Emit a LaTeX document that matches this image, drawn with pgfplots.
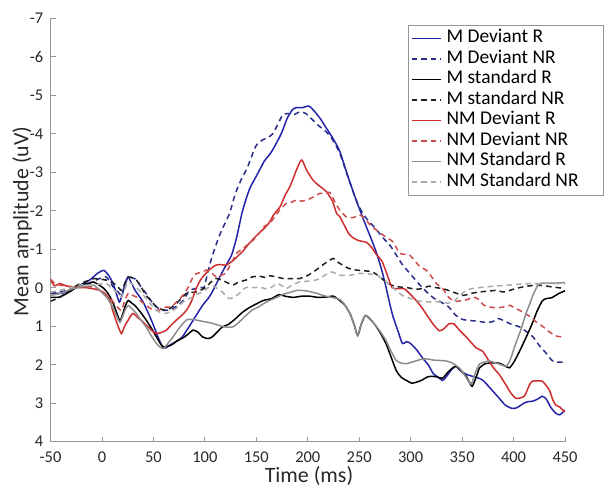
\documentclass[border=0pt]{standalone}
\usepackage{fontspec}
\setmainfont{Carlito}
\usepackage{pgfplots}
\pgfplotsset{compat=1.18}

\definecolor{mblue}{RGB}{35,35,170}
\definecolor{mbluedash}{RGB}{40,45,140}
\definecolor{mred}{RGB}{205,45,45}
\definecolor{mreddash}{RGB}{205,75,75}
\definecolor{kdash}{RGB}{30,30,30}
\definecolor{gsolid}{RGB}{140,140,140}
\definecolor{gdash}{RGB}{170,170,170}
\definecolor{axisgray}{RGB}{150,150,150}
\definecolor{tickcol}{RGB}{40,40,40}
\newcommand\lent[1]{\makebox[154bp][l]{#1}}

\begin{document}
\begin{tikzpicture}
\begin{axis}[
  scale only axis, width=514.5bp, height=423.4bp,
  xmin=-50, xmax=450, ymin=-7, ymax=4, y dir=reverse,
  axis x line*=bottom, axis y line*=left,
  axis line style={draw=axisgray, line width=0.8bp, -},
  xtick={-50,0,...,450}, ytick={-7,-6,...,4},
  tick align=inside, major tick length=5bp,
  tick style={axisgray, line width=0.8bp},
  ticklabel style={font=\fontsize{16.5}{18}\selectfont, text=tickcol},
  /pgf/number format/assume math mode=true,
  xticklabel style={anchor=north, inner sep=0pt, yshift=-10bp},
  yticklabel style={anchor=east, inner sep=0pt, xshift=-7bp},
  xlabel={Time (ms)}, ylabel={Mean amplitude (uV)},
  label style={font=\fontsize{22}{26}\selectfont, text=tickcol},
  xlabel style={at={(axis description cs:0.5024,-0.0975)}, anchor=base, inner sep=0pt},
  ylabel style={at={(axis description cs:-0.0428,0.52)}, anchor=base, inner sep=0pt},
  legend style={at={(axis description cs:1,1)}, anchor=north east, xshift=39bp, yshift=-6.7bp,
    draw=axisgray, line width=0.8bp, fill=white, inner sep=3bp,
    font=\fontsize{19.5}{20.5}\selectfont, row sep=0pt, column sep=5bp,
    nodes={inner sep=0pt, text height=14.5bp, text depth=6bp}},
  legend cell align=left,
  legend image code/.code={\draw[#1] (0bp,0bp) -- (29bp,0bp);},
  every axis plot/.append style={line width=1.5bp, smooth, tension=0.4},
]
% M Deviant R
\addplot[mblue] coordinates {
(-50,0.12) (-41,0.15) (-31,0.08) (-21,-0.07) (-12,-0.2) (-4,-0.38) (2,-0.45) (7,-0.3) (11,-0.1) (14,0.15) (17,0.37) (20,0.15) (23,-0.15) (25.5,-0.28) (29,-0.1) (33,0.1) (40,0.37) (48,0.84) (54,1.25) (59,1.54) (62,1.56) (66,1.49) (72,1.4) (78,1.28) (85,1.0) (92,0.7) (98,0.45) (104,0.25) (108,0.07) (113,-0.2) (118,-0.46) (122,-0.65) (126,-0.85) (131,-1.32) (136,-1.93) (140,-2.3) (144,-2.6) (149,-2.85) (154,-3.1) (158,-3.3) (164,-3.5) (170,-3.78) (175,-4.05) (180,-4.4) (185,-4.62) (189,-4.68) (195,-4.68) (201,-4.72) (206,-4.6) (212,-4.4) (218,-4.15) (224,-3.9) (231,-3.55) (239,-2.9) (247,-2.28) (257,-1.58) (262,-1.25) (267,-0.89) (272,-0.45) (276,-0.02) (280,0.45) (283,0.76) (288,1.15) (292,1.45) (296,1.4) (300,1.45) (306,1.62) (312,1.84) (317,2.0) (322,2.23) (327,2.33) (331,2.41) (335,2.3) (340,2.12) (344,2.04) (348,2.15) (354,2.25) (360,2.3) (364,2.33) (370,2.4) (377,2.6) (386,2.87) (392,3.05) (398,3.13) (403,3.12) (410,3.0) (414,2.96) (418,2.95) (423,2.9) (428,2.82) (432,2.9) (436,3.1) (441,3.26) (445,3.3) (450,3.18)};
\addlegendentry{\lent{M Deviant R}}
% M Deviant NR
\addplot[mbluedash, dash pattern=on 5.5bp off 4bp] coordinates {
(-50,0.15) (-41,0.11) (-31,0.05) (-21,-0.02) (-12,-0.12) (-4,-0.22) (4,-0.28) (9,-0.1) (12,0.02) (16,0.12) (19,0.2) (22,-0.05) (25.5,-0.28) (30,-0.25) (34,-0.2) (38,-0.02) (43,0.15) (48,0.35) (53,0.5) (59,0.59) (64,0.58) (69,0.54) (74,0.45) (79,0.33) (85,0.07) (90,0.03) (95,-0.02) (99,0.0) (102,-0.3) (105,-0.63) (110,-1.05) (115,-1.41) (120,-1.7) (124,-1.93) (128,-2.3) (131,-2.54) (136,-2.85) (141,-3.1) (146,-3.45) (150,-3.7) (156,-3.84) (161,-3.9) (166,-4.0) (171,-4.25) (176,-4.5) (182,-4.52) (187,-4.5) (192,-4.57) (198,-4.53) (204,-4.38) (211,-4.2) (218,-4.05) (224,-3.85) (231,-3.5) (239,-2.88) (247,-2.28) (252,-2.0) (257,-1.8) (262,-1.65) (267,-1.5) (273,-1.3) (280,-1.1) (286,-0.85) (292,-0.6) (300,-0.35) (308,-0.1) (316,0.12) (323,0.28) (330,0.38) (337,0.5) (344,0.72) (350,0.82) (357,0.85) (365,0.87) (373,0.9) (380,0.88) (385,0.8) (390,0.85) (398,0.95) (406,1.02) (413,1.15) (419,1.28) (425,1.5) (432,1.71) (437,1.88) (441,1.93) (450,1.93)};
\addlegendentry{\lent{M Deviant NR}}
% M standard R
\addplot[black] coordinates {
(-50,0.25) (-41,0.24) (-31,0.1) (-21,-0.07) (-12,-0.12) (-8,-0.15) (1,0.0) (6,0.15) (11,0.41) (15,0.7) (17.5,0.86) (20,0.7) (23,0.45) (25.5,0.33) (29,0.4) (32,0.46) (37,0.62) (43,0.84) (48,1.05) (53,1.28) (57,1.46) (60,1.54) (64,1.52) (68,1.48) (73,1.38) (79,1.3) (84,1.2) (88.5,1.1) (93,1.15) (98,1.28) (103,1.32) (107,1.28) (112,1.15) (117,1.02) (123,0.95) (130,0.8) (136,0.65) (143,0.52) (150,0.42) (157,0.33) (165,0.28) (172,0.18) (178,0.22) (186,0.25) (194,0.22) (202,0.22) (210,0.25) (218,0.24) (225,0.22) (231,0.33) (236,0.45) (241,0.67) (245,0.95) (248.5,1.24) (252,0.95) (256,0.72) (260,0.8) (265,0.95) (270,1.15) (276,1.45) (281,1.8) (286,2.15) (291,2.33) (296,2.41) (301,2.48) (306,2.45) (311,2.4) (316,2.32) (321,2.3) (326,2.32) (331,2.35) (336,2.2) (340,2.1) (344,2.04) (349,2.15) (354,2.3) (358,2.5) (360,2.56) (364,2.3) (367,2.08) (372,1.98) (376,1.96) (381,1.95) (386,1.96) (391,2.02) (396,2.08) (401,1.9) (406,1.64) (412,1.3) (418,0.94) (423,0.6) (428,0.34) (432,0.28) (437,0.26) (444,0.15) (450,0.08)};
\addlegendentry{\lent{M standard R}}
% M standard NR
\addplot[kdash, dash pattern=on 5.5bp off 4bp] coordinates {
(-50,0.35) (-41,0.25) (-31,0.05) (-21,-0.11) (-12,-0.2) (-8,-0.24) (4,-0.2) (9,-0.15) (14,-0.07) (19,0.07) (22,-0.1) (25.5,-0.28) (30,-0.25) (33.5,-0.2) (38,-0.02) (43,0.2) (48,0.35) (53,0.5) (58,0.56) (62.6,0.59) (67,0.52) (72.4,0.41) (77,0.28) (82,0.15) (87,0.12) (91.8,0.11) (97,0.05) (101.5,-0.02) (106,-0.15) (111,-0.24) (116,-0.2) (120.5,-0.15) (127,-0.07) (133,-0.15) (140,-0.2) (146,-0.28) (153,-0.3) (158,-0.27) (163,-0.31) (170,-0.28) (176,-0.24) (184,-0.24) (192,-0.24) (200,-0.32) (208,-0.46) (216,-0.62) (224.6,-0.76) (230,-0.65) (234,-0.59) (240,-0.5) (247,-0.46) (255,-0.44) (263,-0.41) (270,-0.28) (276,-0.15) (283,-0.05) (289,-0.02) (297,0.0) (305,0.04) (311,0.02) (318,-0.04) (325,0.0) (331,0.02) (340,0.1) (351,0.2) (358,0.15) (367,0.11) (375,0.09) (383,0.07) (390,0.11) (395,0.08) (402,0.02) (409,-0.02) (416,-0.05) (422,-0.07) (430,-0.05) (438,-0.02) (444,0.0) (450,0.02)};
\addlegendentry{\lent{M standard NR}}
% NM Deviant R
\addplot[mred] coordinates {
(-50,-0.2) (-46,-0.05) (-41,-0.11) (-35,-0.05) (-28,-0.02) (-20,0.0) (-15,0.0) (-8,0.03) (-2,0.07) (3,0.15) (7.7,0.33) (10,0.55) (12.5,0.76) (16,1.02) (19,1.19) (22,1.0) (25.5,0.84) (30,0.67) (35,0.78) (40,0.89) (46,1.05) (50,1.15) (53,1.19) (58,1.16) (62.6,1.1) (67,0.98) (72.4,0.84) (77,0.73) (82,0.59) (87,0.35) (91.9,0.0) (97,-0.25) (104.9,-0.48) (111,-0.59) (116,-0.6) (121,-0.59) (128,-0.72) (133,-0.85) (137,-0.95) (143,-1.15) (150,-1.35) (156,-1.5) (162,-1.67) (167,-1.9) (173,-2.1) (178,-2.4) (182.5,-2.62) (186,-2.85) (189,-3.06) (194,-3.32) (199,-3.05) (205,-2.8) (211,-2.65) (218,-2.5) (224,-2.25) (228,-1.93) (231,-1.85) (235,-1.65) (240,-1.4) (245,-1.28) (250,-1.22) (257,-1.18) (262,-1.05) (267,-0.85) (272,-0.7) (277,-0.35) (282,0.0) (288,0.02) (294,0.03) (300,0.18) (306,0.35) (311,0.52) (316,0.72) (322,0.95) (328,1.12) (333,1.05) (337,0.94) (342,0.94) (348,1.12) (353,1.25) (358,1.4) (364,1.57) (370,1.65) (376,1.9) (381,2.1) (386,2.25) (392,2.5) (397,2.72) (402,2.87) (407,2.86) (411,2.8) (415,2.55) (418,2.43) (423,2.42) (428,2.43) (432,2.55) (435,2.67) (438,2.9) (441,3.05) (445,3.1) (449,3.21) (450,3.22)};
\addlegendentry{\lent{NM Deviant R}}
% NM Deviant NR
\addplot[mreddash, dash pattern=on 5.5bp off 4bp] coordinates {
(-50,-0.22) (-46,-0.12) (-41,-0.07) (-31,-0.03) (-21,-0.02) (-8.5,-0.02) (1,0.11) (6,0.22) (11,0.37) (15,0.5) (19,0.59) (22,0.35) (25.5,0.15) (30,0.2) (33.5,0.24) (38,0.35) (43,0.46) (48,0.55) (53,0.59) (58,0.56) (62.6,0.5) (67,0.5) (72.4,0.37) (77,0.25) (82,0.07) (84,-0.02) (88.5,-0.28) (92,-0.37) (97,-0.4) (101.6,-0.46) (106,-0.4) (111.3,-0.28) (116,-0.33) (120,-0.37) (125,-0.6) (130.8,-0.89) (137,-1.02) (143,-1.15) (147,-1.24) (153,-1.42) (158,-1.6) (163,-1.67) (168,-1.85) (172.8,-2.02) (179,-2.19) (184,-2.22) (189,-2.28) (194,-2.25) (199,-2.28) (205,-2.35) (211.6,-2.45) (216,-2.45) (221.4,-2.48) (226,-2.25) (231,-2.02) (237.6,-1.84) (244,-1.82) (250.5,-1.89) (256,-1.78) (261,-1.62) (266.7,-1.5) (274,-1.35) (282.9,-1.19) (289,-0.9) (294,-0.87) (299,-0.85) (304,-0.7) (309,-0.55) (315,-0.46) (320,-0.3) (325,-0.11) (331,0.02) (337,0.25) (343,0.35) (350.8,0.33) (356,0.3) (360.5,0.24) (366,0.3) (371,0.45) (377,0.5) (384,0.52) (390,0.5) (396.4,0.46) (403,0.55) (409,0.63) (416,0.75) (422,0.89) (428,1.0) (435,1.15) (441,1.25) (448,1.28) (450,1.28)};
\addlegendentry{\lent{NM Deviant NR}}
% NM Standard R
\addplot[gsolid] coordinates {
(-50,0.2) (-41,0.15) (-31,0.05) (-21,-0.02) (-12,-0.05) (-8,-0.07) (1,0.15) (6,0.3) (11,0.54) (15,0.78) (17.5,0.9) (20,0.75) (23,0.55) (25.5,0.46) (30,0.57) (33.5,0.67) (38,0.85) (43,1.02) (48,1.25) (53,1.45) (57,1.55) (60,1.58) (64,1.45) (69,1.28) (75,1.05) (82,0.84) (87,0.82) (92,0.84) (97,0.87) (101.5,0.89) (108,0.93) (114,0.98) (120,1.02) (127,1.02) (133,0.9) (140,0.72) (146,0.58) (152,0.5) (158,0.4) (163,0.33) (170,0.25) (176,0.17) (183,0.12) (189,0.07) (195,0.07) (202,0.1) (208,0.14) (215,0.2) (221,0.24) (227,0.27) (232,0.32) (236,0.45) (241,0.67) (245,0.95) (248.5,1.24) (252,0.95) (256,0.72) (260,0.8) (265,0.95) (270,1.12) (276,1.37) (281,1.65) (286,1.89) (291,1.96) (296,1.97) (303,1.92) (310,1.86) (316,1.85) (322,1.88) (328,1.89) (334,1.9) (340,1.95) (347,2.08) (352,2.25) (356,2.42) (359,2.5) (363,2.2) (367,1.98) (372,1.93) (376,1.9) (382,1.95) (388,2.0) (393,2.04) (397,1.85) (402,1.46) (407,1.1) (412,0.68) (416,0.4) (420,0.12) (425,-0.1) (432,-0.12) (440,-0.12) (447,-0.13) (450,-0.13)};
\addlegendentry{\lent{NM Standard R}}
% NM Standard NR
\addplot[gdash, dash pattern=on 5.5bp off 4bp] coordinates {
(-50,0.12) (-41,0.07) (-31,0.0) (-21,-0.07) (-8.5,-0.07) (4,-0.11) (9,0.0) (14,0.11) (19,0.24) (22,0.05) (25.5,-0.15) (30,-0.08) (33.5,0.0) (38,0.12) (43,0.28) (48,0.45) (53,0.59) (59.5,0.67) (64,0.65) (69,0.59) (74,0.5) (78.8,0.37) (83,0.3) (88.5,0.24) (93,0.16) (98,0.11) (103,0.0) (108,-0.05) (112,0.02) (117,0.11) (120,0.2) (123.5,0.28) (128,0.25) (133.4,0.15) (138,0.02) (143,-0.02) (148,0.0) (153,-0.02) (158,0.02) (163,0.02) (170,-0.11) (175,-0.05) (179,0.02) (185,-0.07) (192,-0.15) (200,-0.17) (208,-0.2) (215,-0.3) (223,-0.41) (231,-0.33) (240,-0.32) (250,-0.37) (258,-0.36) (267,-0.33) (274,-0.2) (280,-0.07) (286,0.07) (292,0.2) (300,0.28) (309,0.35) (318,0.37) (328,0.37) (336,0.4) (342,0.35) (348,0.2) (354,0.07) (360,0.02) (366,0.0) (373,-0.02) (385,-0.05) (396,-0.07) (410,-0.1) (425,-0.11) (440,-0.11) (450,-0.11)};
\addlegendentry{\lent{NM Standard NR}}
\end{axis}
\pgfresetboundingbox
\path (current axis.south west) ++(-50.5bp,-47.3bp) rectangle ++(606bp,489bp);
\end{tikzpicture}
\end{document}
